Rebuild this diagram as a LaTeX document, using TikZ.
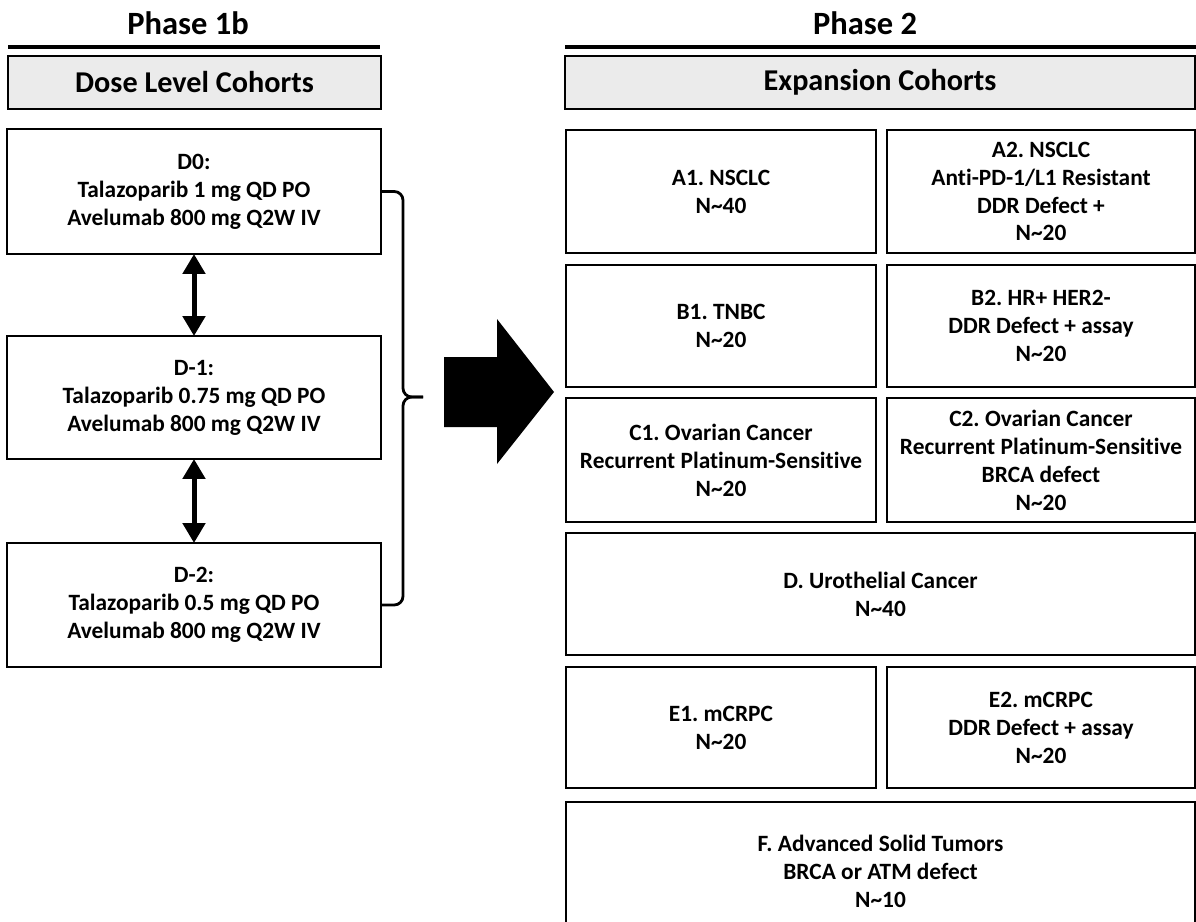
\documentclass[tikz,border=0pt]{standalone}
\usepackage{fontspec}
\setmainfont{Carlito}[Ligatures=NoCommon]
\usetikzlibrary{arrows.meta}
\frenchspacing

\tikzset{
  cohort/.style={draw, line width=1.6pt, inner sep=0pt, outer sep=0pt,
    align=center, font=\bfseries\fontsize{13.3}{15.9}\selectfont},
  header/.style={cohort, fill=black!8, font=\bfseries\fontsize{17.2}{21}\selectfont},
  title/.style={font=\bfseries\fontsize{18.5}{22}\selectfont},
  phaseline/.style={line width=2.3pt},
  dbl/.style={line width=0.1cm, {Triangle[width=0.44cm,length=0.4cm]}-{Triangle[width=0.44cm,length=0.4cm]}},
}

\begin{document}
\begin{tikzpicture}[x=0.02cm,y=-0.02cm]
    \useasboundingbox (0,0) rectangle (1196,922);
    % titles and rules
    \node[title] (p1) at (188,23) {Phase 1b};
    \node[title] (p2) at (865,23) {Phase 2};
    \draw[phaseline] (8,47)--(380,47);
    \draw[phaseline] (565,47)--(1196,47);
    \node[header, minimum width=7.46cm, minimum height=1.06cm] (dlc) at (194.5,82.5) {Dose Level Cohorts};
    \node[header, minimum width=12.6cm, minimum height=1.06cm] (exc) at (880,82.5) {Expansion Cohorts};
    % phase 1b dose levels
    \node[cohort, minimum width=7.48cm, minimum height=2.5cm] (d0) at (194,191.5)
      {D0:\\Talazoparib 1 mg QD PO\\Avelumab 800 mg Q2W IV};
    \node[cohort, minimum width=7.48cm, minimum height=2.46cm] (d1) at (194,397.5)
      {D-1:\\Talazoparib 0.75 mg QD PO\\Avelumab 800 mg Q2W IV};
    \node[cohort, minimum width=7.48cm, minimum height=2.48cm] (d2) at (194,605)
      {D-2:\\Talazoparib 0.5 mg QD PO\\Avelumab 800 mg Q2W IV};
    \draw[dbl] (d0) -- (d1);
    \draw[dbl] (d1) -- (d2);
    % brace
    \coordinate (tip) at (423,397);
    \draw[line width=1.6pt, rounded corners=5pt] (d0.east) -| (403,397) -- (tip);
    \draw[line width=1.6pt, rounded corners=5pt] (d2.east) -| (403,397) -- (tip);
    % block arrow
    \fill (444,357) -- (497,357) -- (497,319) -- (554,392) -- (497,464) -- (497,427) -- (444,427) -- cycle;
    % phase 2 cohorts
    \node[cohort, minimum width=6.2cm, minimum height=2.46cm] (a1) at (721,191.5) {A1. NSCLC\\N\textasciitilde 40};
    \node[cohort, minimum width=6.16cm, minimum height=2.46cm] (a2) at (1041,191.5)
      {A2. NSCLC\\Anti-PD-1/L1 Resistant\\DDR Defect +\\N\textasciitilde 20};
    \node[cohort, minimum width=6.2cm, minimum height=2.44cm] (b1) at (721,326) {B1. TNBC\\N\textasciitilde 20};
    \node[cohort, minimum width=6.16cm, minimum height=2.44cm] (b2) at (1041,326)
      {B2. HR+ HER2-\\DDR Defect + assay\\N\textasciitilde 20};
    \node[cohort, minimum width=6.2cm, minimum height=2.48cm] (c1) at (721,460)
      {C1. Ovarian Cancer\\Recurrent Platinum-Sensitive\\N\textasciitilde 20};
    \node[cohort, minimum width=6.16cm, minimum height=2.48cm] (c2) at (1041,460)
      {C2. Ovarian Cancer\\Recurrent Platinum-Sensitive\\BRCA defect\\N\textasciitilde 20};
    \node[cohort, minimum width=12.58cm, minimum height=2.44cm] (d) at (880.5,594)
      {D. Urothelial Cancer\\N\textasciitilde 40};
    \node[cohort, minimum width=6.2cm, minimum height=2.42cm] (e1) at (721,727.5) {E1. mCRPC\\N\textasciitilde 20};
    \node[cohort, minimum width=6.16cm, minimum height=2.42cm] (e2) at (1041,727.5)
      {E2. mCRPC\\DDR Defect + assay\\N\textasciitilde 20};
    \node[cohort, minimum width=12.58cm, minimum height=2.76cm] (f) at (880.5,871)
      {F. Advanced Solid Tumors\\BRCA or ATM defect\\N\textasciitilde 10};
  \end{tikzpicture}
\end{document}
